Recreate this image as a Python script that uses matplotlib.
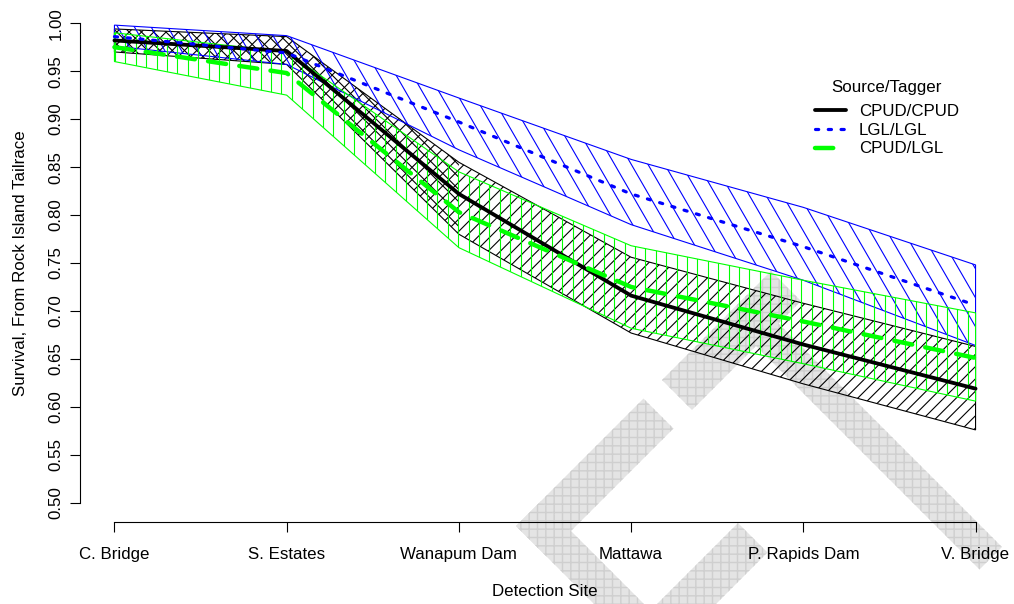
import matplotlib
matplotlib.use('Agg')
import matplotlib.pyplot as plt
import numpy as np
from matplotlib.patches import Polygon
from matplotlib.collections import LineCollection
from matplotlib.lines import Line2D
import matplotlib.transforms as mtransforms

# ---------------- data ----------------
sites = ["C. Bridge", "S. Estates", "Wanapum Dam", "Mattawa", "P. Rapids Dam", "V. Bridge"]

cc_mean = [0.982, 0.971, 0.822, 0.716, 0.665, 0.619]   # CPUD/CPUD
cc_lo   = [0.970, 0.957, 0.780, 0.677, 0.624, 0.576]
cc_hi   = [0.994, 0.986, 0.855, 0.756, 0.708, 0.663]

ll_mean = [0.986, 0.969, 0.897, 0.822, 0.767, 0.706]   # LGL/LGL
ll_lo   = [0.976, 0.957, 0.868, 0.790, 0.732, 0.664]
ll_hi   = [0.998, 0.987, 0.922, 0.858, 0.808, 0.748]

cl_mean = [0.975, 0.948, 0.803, 0.725, 0.689, 0.651]   # CPUD/LGL
cl_lo   = [0.960, 0.925, 0.766, 0.682, 0.645, 0.606]
cl_hi   = [0.990, 0.970, 0.845, 0.768, 0.732, 0.698]

series_labels = ["CPUD/CPUD", "LGL/LGL", "CPUD/LGL"]
legend_title = "Source/Tagger"
yticks = [0.50, 0.55, 0.60, 0.65, 0.70, 0.75, 0.80, 0.85, 0.90, 0.95, 1.00]

# ---------------- figure ----------------
W, H, DPI = 1014, 604, 100
plt.rcParams['font.family'] = ['Liberation Sans', 'DejaVu Sans']
FS = 12.2
GREEN = '#00FF00'
BLUE = '#0000FF'

fig = plt.figure(figsize=(W / DPI, H / DPI), dpi=DPI, facecolor='white')
ax = fig.add_axes([80 / W, (H - 522) / H, 930 / W, 518 / H])
ax.set_facecolor((1, 1, 1, 0))
x = np.arange(1, len(sites) + 1)
ax.set_xlim(0.8, 6.2)
ax.set_ylim(0.48, 1.02)

pix = mtransforms.Affine2D().scale(1.0 / DPI) + fig.dpi_scale_trans

# ---------------- background watermark (light grey logo) ----------------
def stripe(u0, u1, v0, v1):
    # rectangle in rotated pixel coords u = x + y, v = x - y (y measured downwards)
    pts = []
    for u, v in [(u0, v0), (u0, v1), (u1, v1), (u1, v0)]:
        px, py = (u + v) / 2.0, (u - v) / 2.0
        pts.append((px, H - py))
    return pts

wm = [stripe(1042, 1549, 410, 455),   # long arm down to the right
      stripe(1042, 1102, 282, 500),   # short arm through the apex
      stripe(1042, 1102, -10, 245),   # arm down to the left
      stripe(1042, 1420, -10, 40),    # lower-left arm down to the right
      stripe(1261, 1320, -250, 215)]  # lower piece rising to the right
for pts in wm:
    p = Polygon(pts, closed=True, facecolor='#e4e4e4', edgecolor='#cfcfcf',
                linewidth=0, hatch='++', transform=pix, zorder=-5)
    fig.add_artist(p)


def hatch_segments(angle, spacing):
    segs = []
    if angle == 90:
        for k in range(0, int(W / spacing) + 2):
            xx = k * spacing + 0.5
            segs.append([(xx, -10), (xx, H + 10)])
    else:
        a = np.radians(angle)
        dx, dy = np.cos(a), np.sin(a)
        L = 3000
        n = int(2 * W / spacing)
        for k in range(-n, n):
            x0 = k * spacing
            segs.append([(x0 - L * dx, -L * dy), (x0 + L * dx, L * dy)])
    return segs


def band(xs, lo, hi, color, angle, spacing, z, outline=True):
    xs = np.asarray(xs)
    verts = np.column_stack([np.r_[xs, xs[::-1]], np.r_[hi, lo[::-1]]])
    poly = Polygon(verts, closed=True, fill=False,
                   edgecolor=color if outline else 'none',
                   linewidth=0.8, zorder=z)
    ax.add_patch(poly)
    lc = LineCollection(hatch_segments(angle, spacing), colors=color,
                        linewidths=0.8, transform=pix, zorder=z)
    ax.add_collection(lc, autolim=False)
    lc.set_clip_path(poly)


band(x, cc_lo, cc_hi, 'black', 45, 12.3, 2)
band(x[:3], cc_lo[:3], cc_hi[:3], 'black', -45, 12.3, 2, outline=False)
band(x, ll_lo, ll_hi, BLUE, -60, 16.7, 2.1)
band(x, cl_lo, cl_hi, GREEN, 90, 10.4, 2.2)

black_kw = dict(color='black', lw=2.75, solid_capstyle='round', solid_joinstyle='round')
blue_kw = dict(color=BLUE, lw=2.3, linestyle=(0, (1, 3)), dash_capstyle='round')
green_kw = dict(color=GREEN, lw=3.2, linestyle=(0, (4.1, 3)), dash_capstyle='round')

ax.plot(x, cc_mean, zorder=5, **black_kw)
ax.plot(x, ll_mean, zorder=5, **blue_kw)
ax.plot(x, cl_mean, zorder=5, **green_kw)

# ---------------- axes styling ----------------
for s in ['top', 'right']:
    ax.spines[s].set_visible(False)
ax.spines['left'].set_bounds(0.5, 1.0)
ax.spines['bottom'].set_bounds(1, 6)
for s in ['left', 'bottom']:
    ax.spines[s].set_linewidth(0.8)

ax.set_xticks(x)
ax.set_xticklabels(sites)
ax.set_yticks(yticks)
ax.set_yticklabels([f"{v:.2f}" for v in yticks])
ax.tick_params(axis='both', direction='out', length=7.2, width=0.8, labelsize=FS)
ax.tick_params(axis='x', pad=10.5)
ax.tick_params(axis='y', pad=4.5, labelrotation=90)
for lab in ax.get_yticklabels():
    lab.set_va('center')

ax.set_xlabel("Detection Site", fontsize=FS, labelpad=16)
ax.set_ylabel("Survival, From Rock Island Tailrace", fontsize=FS, labelpad=15)

handles = [Line2D([], [], **black_kw), Line2D([], [], **blue_kw), Line2D([], [], **green_kw)]
ax.legend(handles, series_labels, frameon=False,
          loc='upper left', bbox_to_anchor=(815 / W, 1 - 104 / H),
          bbox_transform=fig.transFigure, fontsize=FS,
          handlelength=1.82, handletextpad=0.76, labelspacing=0.22,
          borderpad=0, borderaxespad=0)
fig.text(886 / W, 1 - 92 / H, legend_title, fontsize=FS, ha='center', va='baseline')

fig.savefig('out.png', dpi=DPI)
